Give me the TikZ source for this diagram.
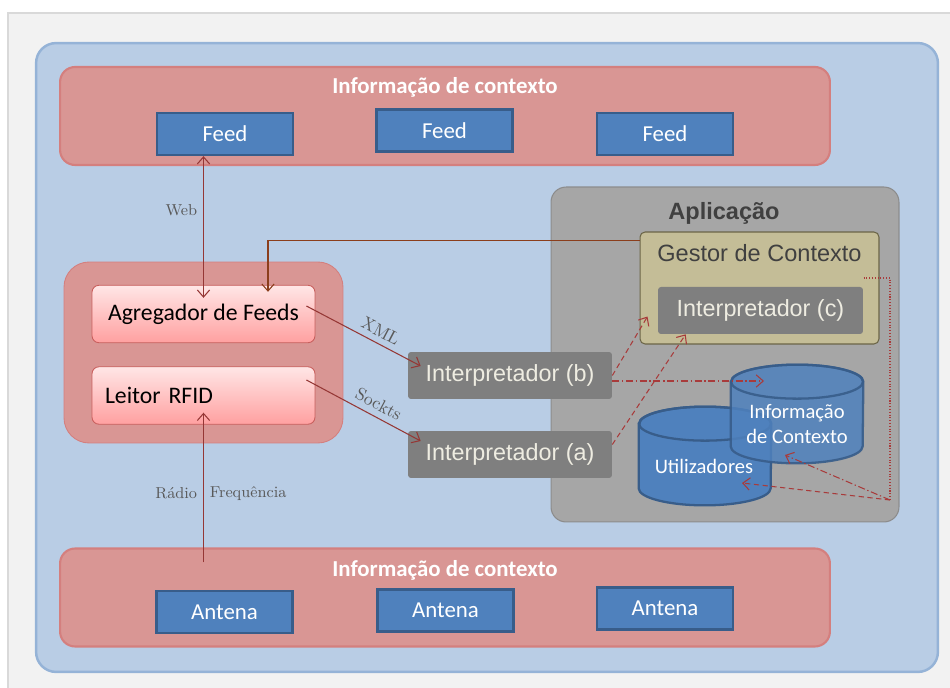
\documentclass[tikz,border=0pt]{standalone}
\usepackage{fontspec}
\usepackage{tikz}
\usetikzlibrary{positioning}
\usetikzlibrary{calc}
\usetikzlibrary{arrows.meta}
\newfontfamily\calib{Carlito}
\newfontfamily\arialf{Liberation Sans}
\definecolor{framebg}{HTML}{F2F2F2}
\definecolor{frameline}{HTML}{D9D9D9}
\definecolor{bgblue}{HTML}{B9CDE5}
\definecolor{bgline}{HTML}{95B3D7}
\definecolor{ctxred}{HTML}{D99694}
\definecolor{ctxline}{HTML}{D47F7E}
\definecolor{feedblue}{HTML}{4F81BD}
\definecolor{feedline}{HTML}{385D8A}
\definecolor{pinktop}{HTML}{FFE6E6}
\definecolor{pinkbot}{HTML}{FFA0A0}
\definecolor{pinkline}{HTML}{C9605E}
\definecolor{intgray}{HTML}{7F7F7F}
\definecolor{inttext}{HTML}{EEECE1}
\definecolor{appgray}{HTML}{A6A6A6}
\definecolor{appline}{HTML}{8C8C8C}
\definecolor{gestfill}{HTML}{C4BD97}
\definecolor{gestline}{HTML}{6B6547}
\definecolor{darktext}{HTML}{404040}
\definecolor{lbltext}{HTML}{595959}
\definecolor{arrred}{HTML}{953735}
\definecolor{arrbrown}{HTML}{8B3E1C}
\definecolor{dashred}{HTML}{A83B3B}

\tikzset{
  ctx/.style={draw=ctxline, line width=1.2pt, fill=ctxred, rounded corners=0.3cm,
    minimum width=15.4cm, minimum height=1.96cm, inner sep=0pt},
  ctxtitle/.style={text=white, font=\calib\bfseries\fontsize{13}{15}\selectfont},
  feedbox/.style={draw=feedline, line width=1.3pt, fill=feedblue, text=white,
    minimum width=2.72cm, minimum height=0.84cm, inner sep=0pt,
    font=\calib\fontsize{13}{15}\selectfont},
  pinkbox/.style={draw=pinkline, line width=0.5pt, top color=pinktop, bottom color=pinkbot,
    rounded corners=0.14cm, minimum width=4.46cm, minimum height=1.15cm, inner sep=0pt,
    font=\calib\fontsize{13.5}{16}\selectfont},
  interp/.style={fill=intgray, text=inttext, rounded corners=0.06cm,
    minimum height=0.94cm, inner sep=0pt, font=\arialf\fontsize{13.3}{16}\selectfont},
  cylbox/.style={minimum width=2.64cm, minimum height=1.96cm, inner sep=0pt},
  cylbody/.style={fill=feedblue, draw=feedline, line width=1.3pt},
  cyledge/.style={draw=feedline, line width=1.3pt},
  cyltext/.style={text=white, align=center, font=\calib\fontsize{11.7}{14.5}\selectfont},
  lbl/.style={text=lbltext, font=\fontsize{9}{11}\selectfont},
  link/.style={draw=arrred, line width=0.6pt, ->},
  dlink/.style={draw=dashred, line width=0.6pt, densely dashed, ->},
  dotdash/.style={dash pattern=on 4pt off 1.5pt on 0.8pt off 1.5pt},
  >={Straight Barb[length=4pt,width=7pt]}
}

\newcommand{\cylpaint}[2]{%
  \path[cylbody, #2] ([yshift=-0.34cm]#1.north west) -- ([yshift=0.34cm]#1.south west)
    arc[start angle=180, end angle=360, x radius=1.32cm, y radius=0.34cm]
    -- ([yshift=-0.34cm]#1.north east)
    arc[start angle=0, end angle=180, x radius=1.32cm, y radius=0.34cm] -- cycle;
  \draw[cyledge, #2] ([yshift=-0.34cm]#1.north) ellipse[x radius=1.32cm, y radius=0.34cm];}

\begin{document}
\begin{tikzpicture}[x=0.02cm, y=-0.02cm]
\useasboundingbox (0,0) rectangle (950,688);
\fill[white] (0,0) rectangle (950,688);
\draw[frameline, fill=framebg, line width=1.2pt] (8,13) rectangle (980,720);
\node[draw=bgline, line width=1.4pt, fill=bgblue, rounded corners=0.4cm, minimum width=18.04cm,
  minimum height=12.58cm, inner sep=0pt] (bg) at (487,357.5) {};

\node[ctx] (ctxTop) at (445,116) {};
\node[ctxtitle] (ctxTopTitle) at (445,87) {Informação de contexto};
\node[feedbox] (feedA) at (225,134) {Feed};
\node[feedbox] (feedB) at (444.5,130.5) {Feed};
\node[feedbox] (feedC) at (665,134) {Feed};

\node[ctx] (ctxBot) at (445,597.5) {};
\node[ctxtitle] (ctxBotTitle) at (445,570) {Informação de contexto};
\node[feedbox] (antA) at (224.5,612) {Antena};
\node[feedbox] (antB) at (445.5,610.5) {Antena};
\node[feedbox] (antC) at (665,608.5) {Antena};

\node[fill=ctxred, draw=ctxline, line width=0.5pt, rounded corners=0.5cm, minimum width=5.58cm,
  minimum height=3.62cm] (srcGroup) at (203.5,352.5) {};
\node[pinkbox] (agreg) at (203.5,314) {Agregador de Feeds};
\node[pinkbox, text width=3.94cm, align=left, inner xsep=0.26cm] (rfid) at (203.5,395.5) {Leitor RFID};

\node[fill=appgray, draw=appline, line width=0.6pt, rounded corners=0.3cm, minimum width=6.96cm,
  minimum height=6.7cm] (app) at (725,354.5) {};
\node[text=darktext, font=\arialf\bfseries\fontsize{13.4}{16}\selectfont] (appTitle) at (724,213) {Aplicação};
\node[fill=gestfill, draw=gestline, line width=0.6pt, rounded corners=0.1cm, minimum width=4.78cm,
  minimum height=2.24cm] (gestor) at (759.5,288) {};
\node[text=darktext, font=\arialf\fontsize{13.4}{16}\selectfont] (gestorTitle) at (759.5,253) {Gestor de Contexto};
\node[interp, minimum width=4.1cm] (interpC) at (760.5,310.5) {Interpretador (c)};

\node[interp, minimum width=4.08cm] (interpB) at (510,375.5) {Interpretador (b)};
\node[interp, minimum width=4.08cm] (interpA) at (510,454.5) {Interpretador (a)};

\node[cylbox] (users) at (705,456) {};
\cylpaint{users}{}
\node[cyltext] (usersText) at (704,466) {Utilizadores};
\node[cylbox] (infoCtx) at (797,414) {};
\cylpaint{infoCtx}{fill opacity=0.85, draw opacity=0.9}
\node[cyltext] (infoText) at (797,424) {Informação\\de Contexto};
\coordinate (hub) at (890,500);

\draw[link, <->] (agreg.north |- feedA.south) -- node[lbl, left, pos=0.38] {Web} ([yshift=-0.26cm]agreg.north);
\draw[link] ([yshift=-0.3cm]rfid.south |- ctxBot.north) -- node[lbl, left, pos=0.46] {Rádio}
  node[lbl, right, pos=0.46] {Frequência} ([yshift=0.24cm]rfid.south);
\draw[link, draw=arrbrown] ([yshift=-0.18cm]gestor.north west) -| ([xshift=1.29cm, yshift=-0.14cm]agreg.north);
\draw[link] ([shift={(-0.18cm,0.16cm)}]agreg.east) -- node[lbl, font=\fontsize{10}{12}\selectfont, above,
  sloped, pos=0.6] {XML} ([shift={(0.26cm,0.19cm)}]interpB.west);
\draw[link] ([shift={(-0.18cm,0.31cm)}]rfid.east) -- node[lbl, font=\fontsize{10}{12}\selectfont, above,
  sloped, pos=0.58] {Sockts} ([shift={(0.26cm,0.27cm)}]interpA.west);

\draw[dlink] (interpB.east) -- ([shift={(0.16cm,0.56cm)}]gestor.south west);
\draw[dlink] ([yshift=0.2cm]interpA.east) -- ([xshift=0.56cm]interpC.south west);
\draw[dlink, dotdash] ([yshift=-0.11cm]interpB.east) -- ([shift={(-0.66cm,-0.11cm)}]interpB.east -| infoCtx.center);
\draw[draw=dashred, line width=0.6pt, densely dotted] ([shift={(-0.32cm,0.2cm)}]gestor.east) -| (hub);
\draw[dlink] (hub) -- ([shift={(0.74cm,-0.54cm)}]users.center);
\draw[dlink, dotdash] (hub) -- ([shift={(-0.24cm,-0.82cm)}]infoCtx.center);
\end{tikzpicture}
\end{document}
